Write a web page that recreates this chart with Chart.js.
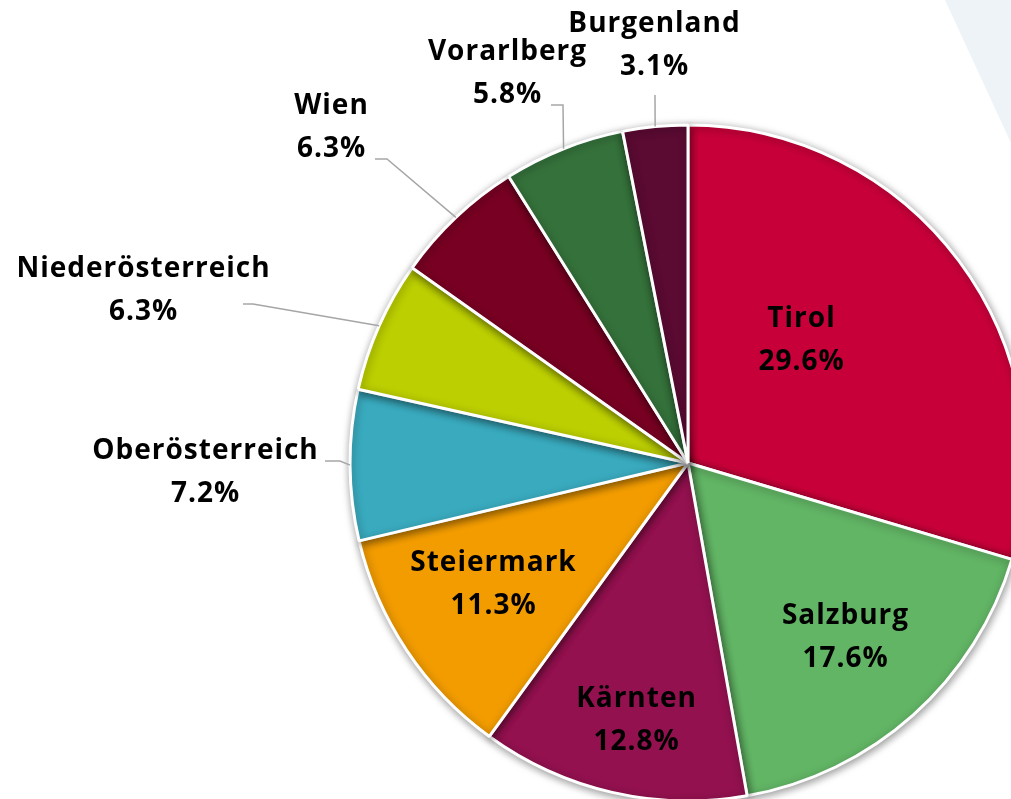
<!DOCTYPE html>
<html>
<head>
<meta charset="utf-8">
<script src="https://cdn.jsdelivr.net/npm/chart.js@4"></script>
<style>
  html, body { margin:0; padding:0; background:#fff; overflow:hidden; width:1011px; height:799px; }
  #deco { position:absolute; left:0; top:0; width:1011px; height:799px;
          background:#eef3f7; clip-path: polygon(945px 0, 1011px 0, 1011px 143px); }
  #pie { position:absolute; left:0; top:0; }
</style>
</head>
<body>
<div id="deco"></div>
<canvas id="pie" width="1100" height="900"></canvas>
<script>
// Anteile der Bundesländer (Prozent), im Uhrzeigersinn ab 12 Uhr
const regions = ['Tirol', 'Salzburg', 'Kärnten', 'Steiermark', 'Oberösterreich', 'Niederösterreich', 'Wien', 'Vorarlberg', 'Burgenland'];
const shares = [29.6, 17.6, 12.8, 11.3, 7.2, 6.3, 6.3, 5.8, 3.1];
const colors = ['#c8003a', '#62b565', '#93114f', '#f29c00', '#3aabbf', '#bccf00', '#780022', '#35723b', '#5b0a32'];

// label placement relative to pie centre; lead = leader line start / elbow (null = label inside)
const labelPos = [
  { dx: 113, dy: -122 },
  { dx: 157, dy: 175 },
  { dx: -52, dy: 258 },
  { dx: -195, dy: 122 },
  { dx: -483, dy: 10, lead: [[-363, -2], [-348, -2]] },
  { dx: -545, dy: -172, lead: [[-445, -159], [-435, -159]] },
  { dx: -357, dy: -335, lead: [[-313, -304], [-301, -304]] },
  { dx: -181, dy: -389, lead: [[-137, -358], [-125, -358]] },
  { dx: -34, dy: -417, lead: [[-33, -368], [-33, -368]] }
];

const FONT = 'bold 28px "Open Sans", sans-serif';
const LINE_GAP = 43;

const shadowPlugin = {
  id: 'shadow',
  beforeDatasetsDraw(chart) {
    const c = chart.ctx;
    c.save();
    c.shadowColor = 'rgba(0,0,0,0.4)';
    c.shadowBlur = 9;
    c.shadowOffsetX = 1;
    c.shadowOffsetY = 2;
  },
  afterDatasetsDraw(chart) { chart.ctx.restore(); }
};

const labelPlugin = {
  id: 'sliceLabels',
  afterDraw(chart) {
    const c = chart.ctx;
    const meta = chart.getDatasetMeta(0);
    c.save();
    meta.data.forEach((arc, i) => {
      const p = labelPos[i];
      const cx = arc.x, cy = arc.y;
      if (p.lead) {
        const mid = (arc.startAngle + arc.endAngle) / 2;
        const ex = cx + Math.cos(mid) * arc.outerRadius;
        const ey = cy + Math.sin(mid) * arc.outerRadius;
        c.strokeStyle = '#a6a6a6';
        c.lineWidth = 1.5;
        c.beginPath();
        c.moveTo(cx + p.lead[0][0], cy + p.lead[0][1]);
        c.lineTo(cx + p.lead[1][0], cy + p.lead[1][1]);
        c.lineTo(ex, ey);
        c.stroke();
      }
      c.fillStyle = '#000';
      c.font = FONT;
      c.letterSpacing = '1px';
      c.textAlign = 'center';
      c.textBaseline = 'middle';
      c.fillText(regions[i], cx + p.dx + 0.5, cy + p.dy - LINE_GAP / 2);
      c.fillText(shares[i].toFixed(1) + '%', cx + p.dx + 0.5, cy + p.dy + LINE_GAP / 2);
    });
    c.restore();
  }
};

new Chart(document.getElementById('pie'), {
  type: 'pie',
  data: {
    labels: regions,
    datasets: [{
      data: shares,
      backgroundColor: colors,
      borderColor: '#ffffff',
      borderWidth: 3,
      hoverOffset: 0
    }]
  },
  options: {
    responsive: false,
    animation: false,
    devicePixelRatio: 1,
    radius: 338,
    layout: { padding: { left: 350, right: 74, top: 125, bottom: 99 } },
    plugins: { legend: { display: false }, tooltip: { enabled: false } },
    events: []
  },
  plugins: [shadowPlugin, labelPlugin]
});
</script>
</body>
</html>
